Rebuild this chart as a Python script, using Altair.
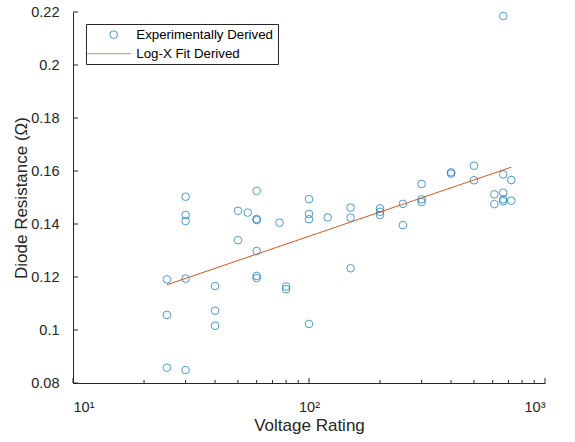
import altair as alt
import pandas as pd

# ---- data ----
voltage = [25, 25, 25,
           30, 30, 30, 30, 30,
           40, 40, 40,
           50, 50,
           55,
           60, 60, 60, 60, 60, 60,
           75,
           80, 80,
           100, 100, 100, 100,
           120,
           150, 150, 150,
           200, 200, 200,
           250, 250,
           300, 300, 300,
           400, 400,
           500, 500,
           610, 610,
           665, 665, 665, 665, 665,
           720, 720]
resistance = [0.1191, 0.1057, 0.0858,
              0.1503, 0.1434, 0.1411, 0.1194, 0.0849,
              0.1166, 0.1073, 0.1016,
              0.1450, 0.1339,
              0.1443,
              0.1525, 0.1419, 0.1415, 0.1298, 0.1204, 0.1196,
              0.1405,
              0.1164, 0.1154,
              0.1494, 0.1438, 0.1418, 0.1023,
              0.1425,
              0.1462, 0.1424, 0.1233,
              0.1459, 0.1446, 0.1434,
              0.1476, 0.1396,
              0.1551, 0.1493, 0.1483,
              0.1595, 0.1590,
              0.1620, 0.1565,
              0.1512, 0.1475,
              0.2185, 0.1587, 0.1518, 0.1493, 0.1486,
              0.1566, 0.1488]
series_names = ["Experimentally Derived", "Log-X Fit Derived"]
x_major = [10, 100, 1000]
x_minor = [20, 30, 40, 50, 60, 70, 80, 90, 200, 300, 400, 500, 600, 700, 800, 900]
y_ticks = [0.08, 0.10, 0.12, 0.14, 0.16, 0.18, 0.20, 0.22]

df = pd.DataFrame({"v": voltage, "r": resistance, "series": series_names[0]})

W, H = 472, 371
FONT = "Liberation Sans"
AX = "#262626"
BLUE = "#0072BD"
ORANGE = "#D95319"

xs = alt.Scale(type="log", domain=[10, 1000], nice=False)
ys = alt.Scale(domain=[0.08, 0.22], nice=False, zero=False)
cscale = alt.Scale(domain=series_names, range=[BLUE, ORANGE])
sscale = alt.Scale(domain=series_names, range=["circle", "M-6.9,0L4.6,0"])

leg = alt.Legend(
    title=None, orient="none", legendX=13, legendY=12,
    strokeColor=AX, fillColor="white", padding=4,
    labelFont=FONT, labelFontSize=13.3, labelColor="#000000",
    symbolSize=58, symbolStrokeWidth=1, symbolFillColor="transparent",
    symbolOffset=17, labelOffset=16, rowPadding=5, cornerRadius=0,
)

xaxis = alt.Axis(
    title="Voltage Rating", values=x_major,
    labelExpr="datum.value == 10 ? '10¹' : datum.value == 100 ? '10²' : '10³'",
    ticks=False, grid=False, domainColor=AX, labelColor=AX,
    labelFont=FONT, labelFontSize=14.5, labelPadding=17,
    titleFont=FONT, titleFontSize=17, titleFontWeight="normal", titleColor=AX,
    titlePadding=4,
)
yaxis = alt.Axis(
    title="Diode Resistance (Ω)", values=y_ticks, format="~g",
    ticks=False, grid=False, domainColor=AX, labelColor=AX,
    labelFont=FONT, labelFontSize=14.5, labelPadding=14,
    titleFont=FONT, titleFontSize=17, titleFontWeight="normal", titleColor=AX,
    titlePadding=0,
)

points = alt.Chart(df).mark_point(filled=False, size=58, strokeWidth=1).encode(
    x=alt.X("v:Q", scale=xs, axis=xaxis),
    y=alt.Y("r:Q", scale=ys, axis=yaxis),
    color=alt.Color("series:N", scale=cscale, legend=leg),
    shape=alt.Shape("series:N", scale=sscale, legend=leg),
)

fit = (
    alt.Chart(df)
    .transform_regression("v", "r", method="log")
    .transform_calculate(series="'Log-X Fit Derived'")
    .mark_line(strokeWidth=1)
    .encode(
        x=alt.X("v:Q", scale=xs, axis=xaxis),
        y=alt.Y("r:Q", scale=ys, axis=yaxis),
        color=alt.Color("series:N", scale=cscale, legend=leg),
    )
)

xmaj_ticks = alt.Chart(pd.DataFrame({"t": x_major})).mark_rule(color=AX, strokeWidth=1).encode(
    x=alt.X("t:Q", scale=xs, axis=xaxis), y=alt.value(H), y2=alt.value(H - 5)
)
xmin_ticks = alt.Chart(pd.DataFrame({"t": x_minor})).mark_rule(color=AX, strokeWidth=1).encode(
    x=alt.X("t:Q", scale=xs, axis=xaxis), y=alt.value(H), y2=alt.value(H - 3)
)
y_tick_rules = alt.Chart(pd.DataFrame({"t": y_ticks})).mark_rule(color=AX, strokeWidth=1).encode(
    y=alt.Y("t:Q", scale=ys, axis=yaxis), x=alt.value(0), x2=alt.value(5)
)

chart = (
    alt.layer(points, fit, xmaj_ticks, xmin_ticks, y_tick_rules)
    .properties(
        width=W, height=H,
        autosize=alt.AutoSizeParams(type="none"),
        padding={"left": 73, "top": 12, "right": 30, "bottom": 59},
        background="white",
    )
    .configure_view(stroke=None)
)

chart.save("out.html", embed_options={"renderer": "svg", "actions": False})
